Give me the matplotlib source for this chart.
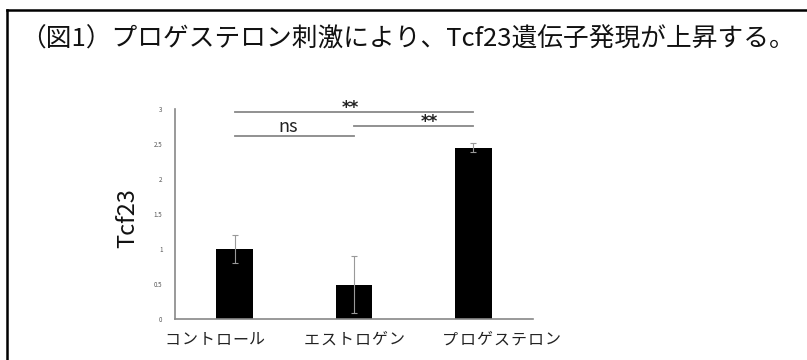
import matplotlib
matplotlib.use("Agg")
import matplotlib.pyplot as plt
from matplotlib.lines import Line2D
from matplotlib.transforms import offset_copy

plt.rcParams['font.family'] = ['Noto Sans CJK JP', 'DejaVu Sans']

categories = ["コントロール", "エストロゲン", "プロゲステロン"]
values = [1.0, 0.49, 2.45]
errors = [0.20, 0.41, 0.06]
yticks = [0, 0.5, 1, 1.5, 2, 2.5, 3]
ytick_labels = ["0", "0.5", "1", "1.5", "2", "2.5", "3"]
title = "（図1）プロゲステロン刺激により、Tcf23遺伝子発現が上昇する。"
ylabel = "Tcf23"
# significance brackets: (start index, end index, y value, label, label x)
sig_pairs = [(0, 2, 2.96, "**", 0.97), (0, 1, 2.61, "ns", 0.45), (1, 2, 2.76, "**", 1.63)]
# left anchor (data x) of each category label, as placed in the original
label_left = [-0.59, 0.575, 1.74]

W, H = 807, 360
fig = plt.figure(figsize=(W / 100, H / 100), dpi=100)

# border lines (top and left)
fig.add_artist(Line2D([7 / W, 1.0], [1 - 10 / H, 1 - 10 / H], color="black", lw=1.8))
fig.add_artist(Line2D([7 / W, 7 / W], [0, 1 - 10 / H], color="black", lw=1.8))

fig.text(20 / W, 1 - 40 / H, title, fontsize=18.5, va="center", ha="left", color="#111111")

ax = fig.add_axes([175 / W, (H - 319) / H, (533 - 175) / W, (319 - 109) / H])
x = range(len(categories))
ax.bar(x, values, width=0.31, color="black", zorder=2)
ax.errorbar(x, values, yerr=errors, fmt="none", ecolor="#999999", elinewidth=0.8,
            capsize=2, capthick=0.8, zorder=3)

ax.set_xlim(-0.5, 2.5)
ax.set_ylim(0, 3)
ax.set_yticks(yticks)
ax.set_yticklabels(ytick_labels, fontsize=4.5, color="#555555")
ax.set_xticks([])
ax.tick_params(axis="both", length=0)
ax.tick_params(axis="y", pad=9)
for s in ["top", "right"]:
    ax.spines[s].set_visible(False)
for s in ["left", "bottom"]:
    ax.spines[s].set_color("#888888")
    ax.spines[s].set_linewidth(1.2)

# category labels with wide letter spacing (17 px pitch)
pitch_pt = 17 * 72 / 100
for lab, lx in zip(categories, label_left):
    for k, ch in enumerate(lab):
        tr = offset_copy(ax.get_xaxis_transform(), fig=fig, x=k * pitch_pt, y=0, units="points")
        ax.text(lx, -0.1, ch, transform=tr, ha="left", va="center", fontsize=11.5,
                color="#222222", clip_on=False)

for (a, b, yv, lab, lx) in sig_pairs:
    ax.plot([a, b], [yv, yv], color="#888888", lw=1.3, clip_on=False, zorder=4)
    if lab == "ns":
        ax.text(lx, yv + 0.14, lab, ha="center", va="center", fontsize=13, color="#222222")
    else:
        ax.text(lx, yv + 0.06, lab, ha="center", va="center", fontsize=12,
                fontweight="bold", family="DejaVu Sans", color="#222222")

fig.text(128 / W, 1 - 218 / H, ylabel, rotation=90, fontsize=17, ha="center", va="center",
         color="#111111")

fig.savefig("out.png", dpi=100, facecolor="white")
